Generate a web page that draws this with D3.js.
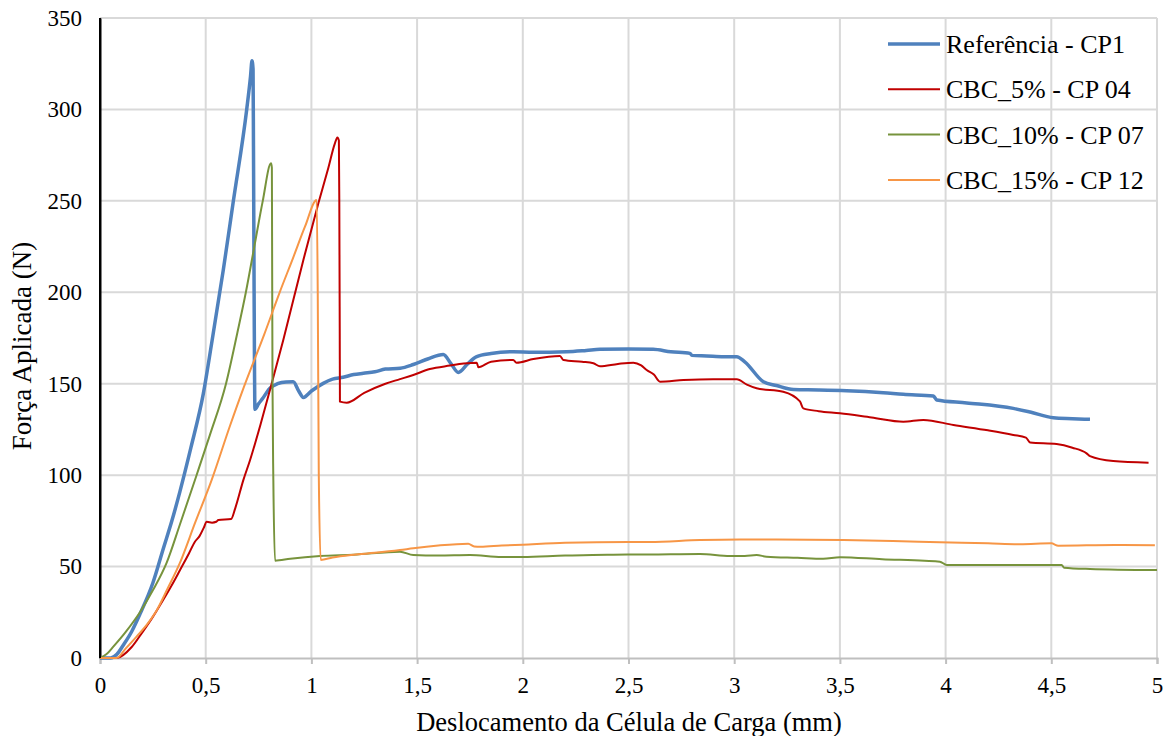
<!DOCTYPE html>
<html>
<head>
<meta charset="utf-8">
<script src="https://cdn.jsdelivr.net/npm/d3@7"></script>
<style>
  body { margin: 0; background: #fff; }
  text { font-family: "Liberation Serif", "Times New Roman", serif; fill: #000; }
</style>
</head>
<body>
<script>
// series: [displacement mm, force N]
let refCP1 = [[0,0],[0.05,0],[0.08,2],[0.11,7],[0.15,14.5],[0.189,24],[0.25,41],[0.3,60],[0.34,75],[0.378,91],[0.43,115],[0.489,144.7],[0.528,172],[0.583,212],[0.631,250],[0.694,300],[0.712,318],[0.719,326.6],[0.724,322],[0.726,280],[0.729,200],[0.733,136],[0.75,139],[0.77,142],[0.79,145.5],[0.804,147.5],[0.84,150],[0.88,151],[0.914,151.1],[0.94,146],[0.962,142.5],[1.0,146],[1.056,150.2],[1.1,152.5],[1.15,153.5],[1.2,155],[1.246,155.7],[1.3,156.5],[1.35,158],[1.42,158.5],[1.482,160.5],[1.55,163.5],[1.624,166],[1.66,161],[1.695,156.2],[1.74,161],[1.782,164.8],[1.85,166.5],[1.955,167.5],[2.05,167.2],[2.207,167.5],[2.3,168.2],[2.365,168.8],[2.5,169],[2.617,168.8],[2.7,167.5],[2.791,166.6],[2.8,165.5],[2.87,165.2],[2.95,164.8],[3.012,164.8],[3.05,162],[3.138,151.1],[3.2,149],[3.28,146.8],[3.4,146.6],[3.532,146.2],[3.705,145.1],[3.8,144.2],[3.942,143.3],[3.958,141.1],[4.1,139.5],[4.32,136.5],[4.4,134.5],[4.51,131.4],[4.6,130.9],[4.683,130.5]];

let cbc5CP04 = [[0,0],[0.079,0],[0.15,6],[0.2,14],[0.25,22.5],[0.3,32],[0.35,42],[0.378,48],[0.42,57],[0.449,63.6],[0.47,66.5],[0.49,71],[0.505,74.5],[0.53,74],[0.55,74.5],[0.56,75.5],[0.62,76],[0.64,82],[0.678,97.3],[0.71,108.3],[0.76,128],[0.804,146.6],[0.867,173.9],[0.962,217.7],[1.033,248.7],[1.08,268],[1.11,281],[1.123,284.7],[1.13,283],[1.132,250],[1.134,180],[1.135,140.2],[1.167,139.6],[1.25,145],[1.35,150],[1.419,152.5],[1.482,154.8],[1.56,158],[1.656,159.9],[1.72,161],[1.782,161.5],[1.79,159],[1.85,162],[1.955,163],[1.97,161.5],[2.05,163.5],[2.176,165.2],[2.192,163],[2.28,162],[2.334,161.2],[2.365,159.5],[2.45,160.8],[2.523,161.5],[2.56,160],[2.586,157.5],[2.62,155],[2.649,151.1],[2.76,152],[2.9,152.5],[3.012,152.4],[3.06,149.5],[3.106,147.5],[3.232,145.6],[3.311,140.3],[3.327,136.5],[3.4,135],[3.5,133.8],[3.65,131.5],[3.8,129.2],[3.895,130.2],[4.037,127.4],[4.2,124.5],[4.32,122],[4.38,120.5],[4.4,117.8],[4.525,117],[4.6,115],[4.667,111.9],[4.683,110.4],[4.793,107.7],[4.96,106.8]];

let cbc10CP07 = [[0,0],[0.03,2],[0.063,6.2],[0.12,14],[0.189,25],[0.25,37],[0.315,52],[0.378,73],[0.454,99],[0.52,122],[0.596,150],[0.65,178],[0.69,200],[0.73,225],[0.77,250],[0.809,270.5],[0.813,268],[0.814,230],[0.816,150],[0.82,97],[0.828,53.2],[0.9,54.3],[1.041,55.8],[1.2,56.5],[1.419,58.1],[1.482,56.3],[1.6,56],[1.75,56.3],[1.9,55.2],[2.0,55.3],[2.2,56],[2.4,56.5],[2.6,56.6],[2.838,56.9],[2.98,55.8],[3.05,55.8],[3.106,56.3],[3.153,55.4],[3.3,54.8],[3.421,54.3],[3.5,55.1],[3.7,54],[3.9,53.2],[3.973,52.7],[4.005,50.9],[4.3,50.9],[4.549,50.9],[4.56,49.4],[4.683,48.7],[5.0,48.1]];

let cbc15CP12 = [[0,0],[0.079,0],[0.12,5],[0.173,11.7],[0.22,18],[0.268,26],[0.32,38],[0.378,52],[0.45,74],[0.528,97.3],[0.615,127],[0.68,148],[0.777,177],[0.85,200],[0.914,219],[0.97,236],[1.025,250.5],[1.03,200],[1.035,100],[1.044,53.6],[1.1,55],[1.2,56.5],[1.3,57.5],[1.419,59],[1.482,60],[1.6,61.5],[1.742,62.5],[1.77,61],[1.8,60.8],[1.9,61.5],[2.0,62],[2.2,63],[2.5,63.5],[2.6,63.5],[2.838,64.5],[3.027,64.8],[3.2,64.8],[3.516,64.5],[3.75,64],[3.973,63.3],[4.2,62.7],[4.352,62.2],[4.5,62.7],[4.533,61.4],[4.8,61.8],[4.99,61.6]];

let seriesNames = ["Referência - CP1", "CBC_5% - CP 04", "CBC_10% - CP 07", "CBC_15% - CP 12"];
let seriesData = [refCP1, cbc5CP04, cbc10CP07, cbc15CP12];
let seriesColors = ["#4F81BD", "#C00000", "#77933C", "#F79646"];
let seriesWidths = [3.5, 2, 2, 2];

let xTicks = [0, 0.5, 1, 1.5, 2, 2.5, 3, 3.5, 4, 4.5, 5];
let yTicks = [0, 50, 100, 150, 200, 250, 300, 350];

let w = 1169, h = 736;
let plotLeft = 100, plotRight = 1157, plotTop = 18, plotBottom = 658;

let ptBR = d3.formatLocale({decimal: ",", thousands: ".", grouping: [3], currency: ["R$", ""]});
let fmt = ptBR.format("~g");

let xScale = d3.scaleLinear().domain([0, 5]).range([plotLeft, plotRight]);
let yScale = d3.scaleLinear().domain([0, 350]).range([plotBottom, plotTop]);

let svg = d3.select("body").append("svg")
  .attr("width", w)
  .attr("height", h);

// gridlines
svg.append("g")
  .selectAll("line")
  .data(xTicks.slice(1))
  .enter().append("line")
  .attr("x1", d => xScale(d)).attr("x2", d => xScale(d))
  .attr("y1", plotTop).attr("y2", plotBottom)
  .attr("stroke", "#d9d9d9").attr("stroke-width", 2);

svg.append("g")
  .selectAll("line")
  .data(yTicks.slice(1))
  .enter().append("line")
  .attr("x1", plotLeft).attr("x2", plotRight)
  .attr("y1", d => yScale(d)).attr("y2", d => yScale(d))
  .attr("stroke", "#d9d9d9").attr("stroke-width", 2);

// x axis (gray, ticks outward)
let xAxis = d3.axisBottom(xScale).tickValues(xTicks).tickFormat(fmt).tickSize(6).tickPadding(13);
let gx = svg.append("g")
  .attr("id", "x-axis")
  .attr("transform", "translate(0," + plotBottom + ")")
  .call(xAxis);
gx.select(".domain").attr("stroke", "#bfbfbf").attr("stroke-width", 2);
gx.selectAll(".tick line").attr("stroke", "#bfbfbf").attr("stroke-width", 2);
gx.selectAll(".tick text").attr("font-size", 23).attr("fill", "#000");

// y axis (black line, no ticks)
let yAxis = d3.axisLeft(yScale).tickValues(yTicks).tickFormat(fmt).tickSize(0).tickPadding(18);
let gy = svg.append("g")
  .attr("id", "y-axis")
  .attr("transform", "translate(" + plotLeft + ",0)")
  .call(yAxis);
gy.select(".domain").attr("stroke", "#000").attr("stroke-width", 2);
gy.selectAll(".tick text").attr("font-size", 23).attr("fill", "#000");

// curves
let line = d3.line()
  .x(d => xScale(d[0]))
  .y(d => yScale(d[1]))
  .curve(d3.curveMonotoneX);

svg.append("g")
  .selectAll("path")
  .data(seriesData)
  .enter().append("path")
  .attr("d", d => line(d))
  .attr("fill", "none")
  .attr("stroke", (d, i) => seriesColors[i])
  .attr("stroke-width", (d, i) => seriesWidths[i])
  .attr("stroke-linejoin", "round");

// redraw left axis line on top
svg.append("line")
  .attr("x1", plotLeft).attr("x2", plotLeft)
  .attr("y1", plotTop).attr("y2", plotBottom)
  .attr("stroke", "#000").attr("stroke-width", 2);

// axis titles
svg.append("text")
  .attr("x", 629)
  .attr("y", 731)
  .attr("text-anchor", "middle")
  .attr("font-size", 26.5)
  .text("Deslocamento da Célula de Carga (mm)");

svg.append("text")
  .attr("transform", "translate(31," + 346 + ") rotate(-90)")
  .attr("text-anchor", "middle")
  .attr("font-size", 27)
  .text("Força Aplicada (N)");

// legend
let legend = svg.append("g").attr("transform", "translate(888,44)");
let items = legend.selectAll("g")
  .data(seriesNames)
  .enter().append("g")
  .attr("transform", (d, i) => "translate(0," + (i * 45.3) + ")");

items.append("line")
  .attr("x1", 0).attr("x2", 52)
  .attr("y1", 0).attr("y2", 0)
  .attr("stroke", (d, i) => seriesColors[i])
  .attr("stroke-width", (d, i) => seriesWidths[i]);

items.append("text")
  .attr("x", 58)
  .attr("y", 9)
  .attr("font-size", 26)
  .text(d => d);
</script>
</body>
</html>
